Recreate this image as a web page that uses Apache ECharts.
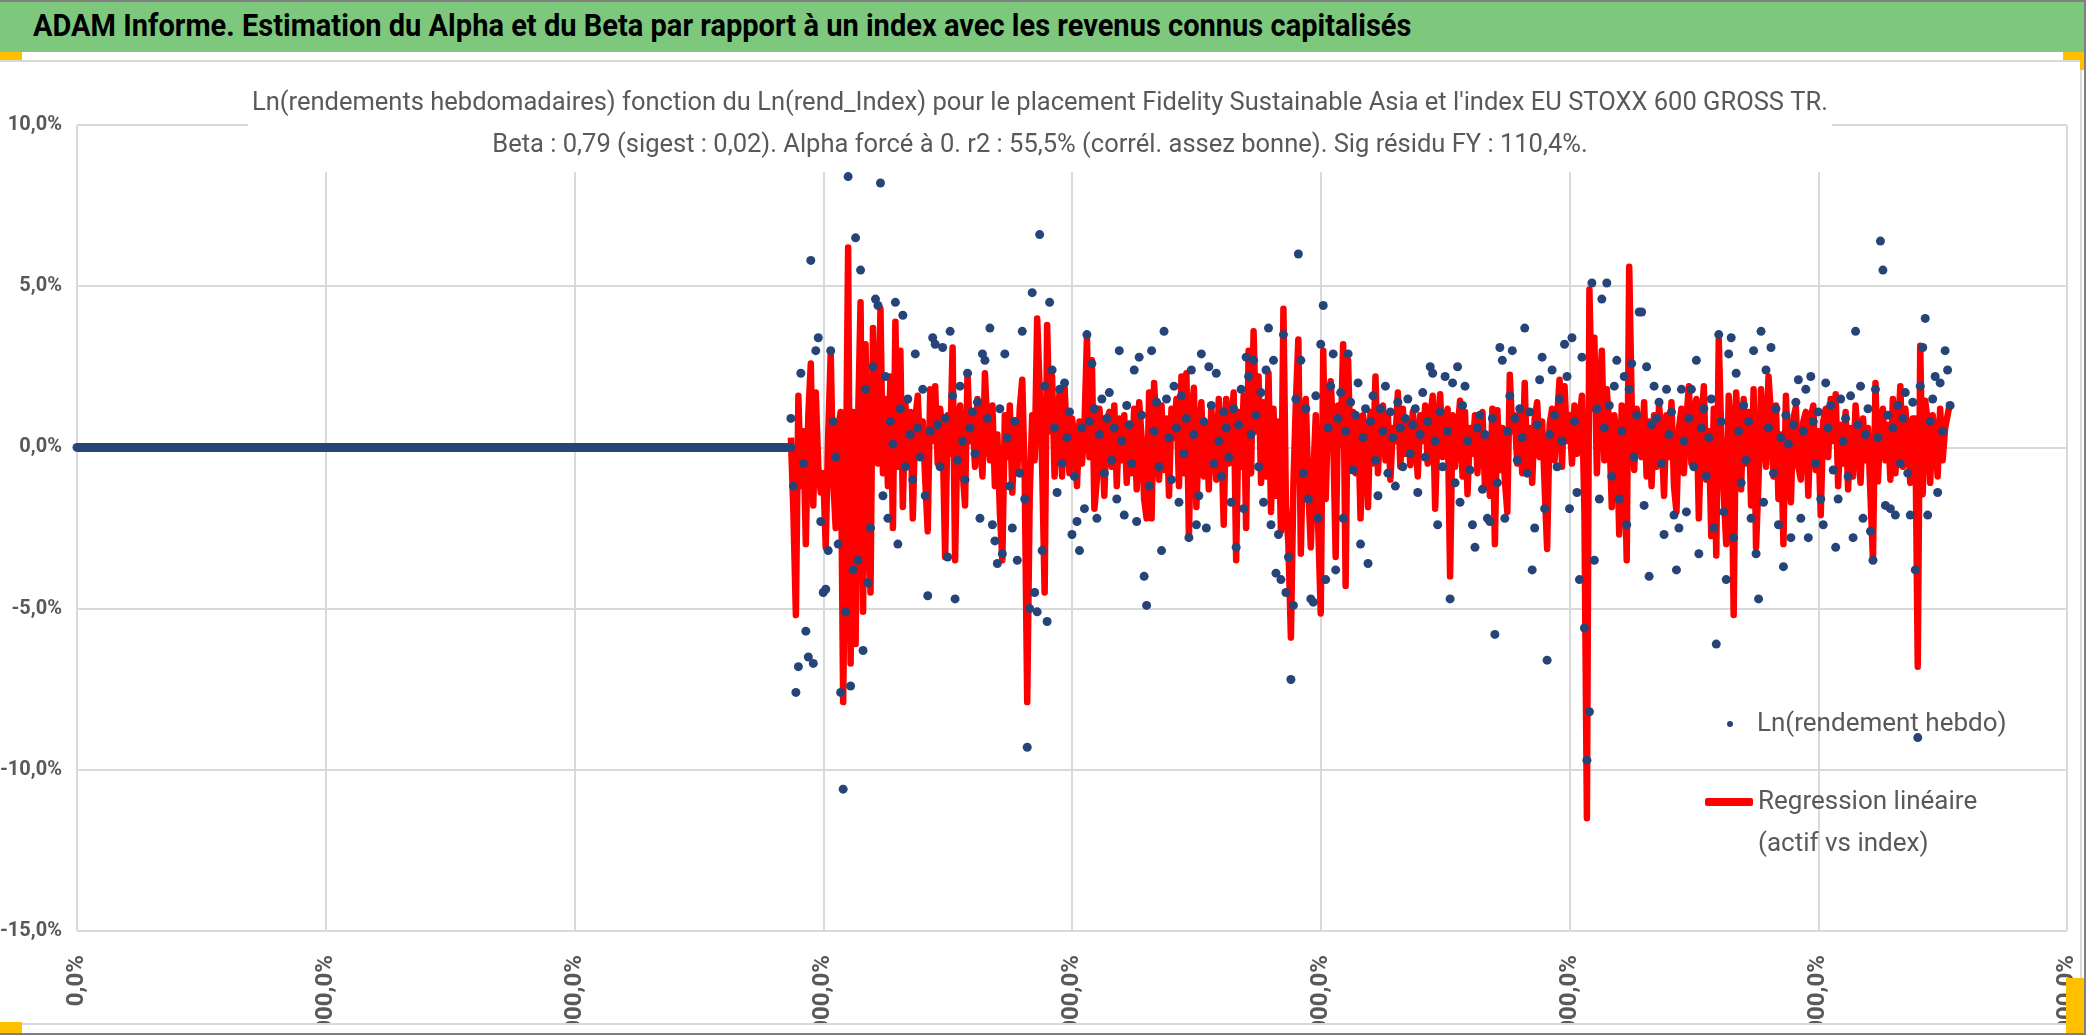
<!DOCTYPE html>
<html>
<head>
<meta charset="utf-8">
<title>ADAM Informe - Alpha et Beta</title>
<script src="https://cdn.jsdelivr.net/npm/echarts@6/dist/echarts.min.js"></script>
<style>
  html, body { margin: 0; padding: 0; background: #fff; }
  body { width: 2086px; height: 1035px; position: relative; overflow: hidden; }
  #header {
    position: absolute; left: 0; top: 0; width: 2084px; height: 52px;
    background: #7DC87D; border-top: 2px solid #7f7f7f; box-sizing: border-box;
    white-space: nowrap; overflow: hidden;
  }
  #headerText {
    position: absolute; left: 33px; top: 4px; display: inline-block;
    font-family: Roboto, 'Open Sans', sans-serif; font-weight: bold; font-size: 31px;
    line-height: 40px; color: #000; transform-origin: 0 50%;
  }
  #frameRight { position: absolute; left: 2084px; top: 0; width: 2px; height: 1035px; background: #7f7f7f; }
  #frameBottom { position: absolute; left: 0; top: 1033px; width: 2086px; height: 2px; background: #7f7f7f; }
  #chartBox {
    position: absolute; left: 0; top: 60px; width: 2080px; height: 961px;
    border-top: 2px solid #d9d9d9; border-right: 2px solid #d9d9d9; border-bottom: 2px solid #d9d9d9;
  }
  #main { position: absolute; left: 0; top: 0; width: 2080px; height: 961px; }
  .handle { position: absolute; background: #FFC000; }
</style>
</head>
<body>
<div id="header"><span id="headerText">ADAM Informe. Estimation du Alpha et du Beta par rapport à un index avec les revenus connus capitalisés</span></div>
<div id="chartBox"><div id="main"></div></div>
<div class="handle" style="left:0;top:52px;width:22px;height:8px"></div>
<div class="handle" style="left:2063px;top:52px;width:21px;height:8px"></div>
<div class="handle" style="left:2080px;top:52px;width:4px;height:18px"></div>
<div class="handle" style="left:0;top:1022px;width:22px;height:11px"></div>
<div class="handle" style="left:2066px;top:978px;width:18px;height:55px"></div>
<div id="frameRight"></div>
<div id="frameBottom"></div>
<script>
var FONT = "Roboto, 'Open Sans', sans-serif";
var GREY = '#595959';

// le bandeau fait ~1378px de large dans l'original (police étroite)
var ht = document.getElementById('headerText');
ht.style.transform = 'scaleX(' + (1378 / ht.offsetWidth) + ')';

// semaine où commence la série (avant : valeurs nulles)
var firstWeek = 287;
var zeroWeeks = [0, 287];

// Ln(rendement hebdo) en %, semaines 287..753
var lnWeekly = [
  0.9, -1.2, -7.6, -6.8, 2.3, -0.5, -5.7, -6.5, 5.8, -6.7,
  3.0, 3.4, -2.3, -4.5, -4.4, -3.2, 3.0, 0.8, -0.3, -3.0,
  -7.6, -10.6, -5.1, 8.4, -7.4, -3.8, 6.5, -3.5, 5.5, -6.3,
  1.8, -4.2, -2.5, 2.5, 4.6, 4.4, 8.2, -1.5, 2.2, -2.2,
  0.8, 0.1, 4.5, -3.0, 1.2, 4.1, -0.6, 1.5, 0.4, -1.0,
  2.9, 0.6, -0.3, 1.8, -1.5, -4.6, 0.5, 3.4, 3.2, 0.7,
  -0.6, 3.1, 0.9, -3.4, 3.6, 1.6, -4.7, -0.4, 1.9, 0.2,
  -1.0, 2.3, 0.6, 1.1, -0.2, 1.4, -2.2, 2.9, 2.7, 0.9,
  3.7, -2.4, -2.9, -3.6, 1.2, -3.3, 2.9, 0.3, -1.2, -2.5,
  0.8, -3.5, -0.8, 3.6, -1.6, -9.3, -5.0, 4.8, -4.5, -5.1,
  6.6, -3.2, 1.9, -5.4, 4.5, 2.4, 0.6, -1.4, 1.8, -0.5,
  2.0, 0.3, 1.1, -2.7, -0.9, -2.3, -3.2, 0.6,
  -1.9, 3.5, 0.8, 2.6, 1.2, -2.2, 0.4, 1.5, -0.8, 0.9,
  1.7, -0.4, 0.6, -1.6, 3.0, 0.2, -2.1, 1.3, 0.7, -0.5,
  2.4, -2.3, 2.8, 1.0, -4.0, -4.9, -1.2, 3.0, 0.5, 1.4,
  -0.6, -3.2, 3.6, 1.5, 0.3, -1.0, 1.9, 0.6, -1.7, 1.6,
  -0.2, 0.9, -2.8, 2.4, 0.4, -2.4, -1.5, 2.9, 0.8, -2.5,
  2.5, 1.3, -0.5, 2.3, 0.2, -0.9, 1.1, 0.6, -0.3, -1.7,
  1.2, -3.1, 0.7, 1.8, -1.9, 2.8, 2.2, 0.4, 2.7, 1.0,
  -0.6, 1.7, -1.7, 2.4, 3.7, -2.4, 2.7, -3.9, -2.7, -4.1,
  3.5, -4.5, -3.4, -7.2, -4.9, 1.5, 6.0, 2.7, -0.8, 1.2,
  -1.6, -4.7, -4.8, 1.6, -2.2, 3.2, 4.4, -4.1, 0.6, 1.9,
  2.9, -3.8, 0.9, 1.7, -2.2, 0.5, 2.9, 1.4, -0.7, 1.0,
  2.0, -3.0, 0.3, 1.2, -3.6,
  0.8, 1.6, -0.4, -1.5, 1.2, 0.5, 1.9, -0.8, 1.1, 0.3,
  -1.2, 1.4, 0.6, -0.6, 0.9, 1.5, -0.2, 0.7, 1.2, -1.4,
  0.4, 1.7, -0.3, 0.8, 2.5, 2.3, 0.2, -2.4, 1.1, -0.6,
  2.2, 0.5, -4.7, 2.0, -1.1, 2.5, -1.7, 1.3, 1.9, 0.2,
  -0.7, -2.4, -3.1, 0.6, 1.0, -1.3, 0.4, -2.2, -2.3, 0.9,
  -5.8, -1.1, 3.1, 2.7, -2.2, 0.5, 1.6, 3.0, 0.9, -0.4,
  1.2, 0.3, 3.7, -0.8, 1.1, -3.8, -2.5, 0.7, 2.1, 2.8,
  -1.9, -6.6, 0.4, 2.4, 1.0, -0.6, 1.5, 0.2, 3.2, 2.2,
  -1.9, 3.4, 0.8, -1.4, -4.1, 2.8, -5.6, -9.7, -8.2, 5.1,
  -3.5, 1.2, -1.6, 4.6, 0.6, 5.1, 1.3, -0.9, 1.9, 2.7,
  -1.6, 0.5, 2.2, -2.4, 1.8, 2.6, -0.3, 1.0, 4.2, 4.2,
  -1.8, 2.5, -4.0, 0.7, 1.9,
  0.9, 1.4, -0.5, -2.7, 1.8, 0.4, 1.1, -2.1, -3.8, -2.5,
  1.8, 0.2, -2.0, 0.9, 1.8, -0.6, 2.7, -3.3, 0.6, 1.2,
  -0.9, 0.3, 1.5, -2.5, -6.1, 3.5, 0.8, -2.0, -4.1, 2.9,
  3.4, -2.8, 2.3, 0.5, -1.1, 1.3, -0.4, 0.8, -2.2, 3.0,
  -3.3, -4.7, 3.6, -1.7, 2.4, 0.6, 3.1, -0.8, 1.2, -2.4,
  0.3, -3.7, 1.0, 0.1, -2.8, 0.7, 1.4, 2.1, -2.2, 0.5,
  1.8, -2.8, 2.2, 0.8, -0.5, 1.1, -1.6, -2.4, 2.0, 0.6,
  1.3, -0.7, -3.1, -1.6, 1.5, 0.2, 0.9, -0.9, 1.6, -2.8,
  3.6, 0.7, 1.9, -2.2, 0.4, 1.2, -2.6, -3.5, 1.8, 0.3,
  6.4, 5.5, -1.8, 1.0, -1.9, 0.6, -2.1, 1.3, -0.5, 0.9,
  1.7, -0.8, -2.1, 1.4, -3.8, -9.0, 1.9, 3.1, 4.0, -2.1,
  0.8, 1.5, 2.2, -1.4, 2.0, 0.5, 3.0, 2.4, 1.3
];

// Regression linéaire (beta x Ln(rend_Index)) en %, mêmes semaines
var lnFit = [
  0.3, -2.0, -5.2, 1.6, -1.2, 0.5, -3.0, 1.0, 2.6, -1.8,
  1.7, -0.6, -1.4, -0.8, -3.1, 0.4, 2.9, -1.0, -2.5, 0.6,
  1.1, -7.9, -2.0, 6.2, -6.7, 1.1, -6.1, 0.8, 4.5, -5.1,
  3.2, -1.5, -4.5, 3.7, 0.5, -0.5, 4.3, -0.8, 1.5, -1.2,
  2.2, -2.5, 3.9, -0.6, 3.0, -1.85, 1.4, -0.4, 1.1, -2.2,
  0.9, 1.6, -0.3, 0.8, -1.0, -2.6, 1.8, 0.2, 1.9, -0.5,
  1.2, 0.4, -3.4, 1.0, -0.2, 3.1, -3.5, 0.6, 1.3, -0.7,
  -1.8, 2.3, 0.2, 1.0, -0.6, 1.5, 0.3, -0.9, 2.3, 0.5,
  -0.4, 1.3, -1.2, 0.4, -2.0, -3.5, 1.0, -0.3, 1.3, -1.4,
  0.6, -0.8, 1.2, 2.1, -1.0, -7.9, -1.5, 1.0, -0.4, 4.0,
  1.8, -0.6, -4.5, 3.8, 0.5, 2.2, -0.9, 0.7, 1.7, -0.9,
  1.9, 0.2, -0.8, 0.9, 0.3, -1.2, 0.8, -0.5,
  0.6, 3.4, -0.3, 2.7, -1.9, -1.0, 1.2, 0.4, -1.5, 0.8,
  1.1, -0.6, 1.3, -1.2, 0.9, -0.4, 1.0, -1.1, 0.7, -0.8,
  1.2, -1.3, 1.4, 0.3, -1.6, -2.2, 1.7, -2.2, 2.0, 0.5,
  -1.0, 1.3, -0.7, 0.9, -1.5, 1.2, 0.3, 1.5, -1.2, 2.2,
  -0.8, 2.3, -2.75, 1.0, 1.85, -1.85, 0.4, 1.4, -0.9, 0.7,
  -1.3, 1.2, 0.2, -1.0, 1.5, 0.3, -2.4, 1.5, -0.5, 0.8,
  1.7, -3.5, 1.1, -0.6, 1.6, -2.5, 3.0, -0.8, 3.6, 0.5,
  2.2, -1.1, 1.4, -0.9, 2.3, -2.0, 1.2, -1.5, 0.8, -2.6,
  4.3, -1.8, -3.0, -5.9, -1.2, 1.4, 3.35, -3.3, 0.6, 1.5,
  -1.3, -3.1, -0.9, 1.0, -2.5, -5.15, 3.0, -1.6, 1.2, 2.05,
  0.4, -3.4, 1.3, 0.1, 3.2, -4.3, 2.7, -0.5, 1.1, -0.8,
  0.9, -2.2, 1.0, 0.4, -1.85,
  1.1, -0.5, 2.2, -0.8, 0.9, 1.3, -0.4, 1.0, -1.0, 0.6,
  0.2, 1.7, -0.6, 1.2, -0.2, 0.8, -0.55, 1.1, 0.3, -0.9,
  1.0, 0.2, 1.3, -0.5, 0.9, 1.6, -1.9, 0.7, 1.65, -0.3,
  0.8, 1.2, -4.0, 1.0, -0.6, 0.5, 1.45, -0.9, 1.1, -1.45,
  0.6, -0.2, 1.0, -0.8, 0.7, 1.1, -1.2, 0.3, -1.5, 1.2,
  -3.0, 1.15, -0.7, 0.6, -1.0, -2.0, 2.25, 0.5, 1.0, -0.5,
  1.1, -0.8, 2.0, -0.8, 0.6, -1.1, 0.9, 1.4, -0.3, 0.8,
  -1.2, -3.15, 0.7, 1.2, -0.4, 0.9, 2.1, -0.6, 1.9, 0.2,
  1.0, -0.5, 1.3, -0.2, 0.8, 1.6, -2.0, -11.5, 4.9, 1.2,
  3.4, -0.8, 1.5, 3.0, -0.4, 1.8, 0.6, -1.85, 1.0, 0.4,
  -2.7, 1.3, 0.2, -3.5, 5.6, 1.35, -0.7, 1.2, 0.5, -0.3,
  1.4, -0.9, 0.8, -1.2, 1.0,
  -0.6, 1.3, 0.4, -1.5, 1.0, -0.3, 1.4, -1.2, -2.0, 0.6,
  1.2, -0.8, 0.9, 1.9, -0.5, 1.1, 1.5, -2.2, 0.7, 1.9,
  -1.0, 0.5, -2.75, 1.2, -3.35, 3.35, 0.4, -1.4, -3.0, 1.6,
  0.6, -5.2, 1.7, 0.2, -1.3, 1.5, -0.5, 1.1, -1.8, 1.8,
  -3.1, -1.0, 1.8, 0.5, -0.6, 2.2, 1.0, -0.9, 1.3, -1.6,
  0.4, -3.0, 1.6, -0.4, -1.7, 0.9, 1.25, -0.6, -1.0, 0.8,
  1.1, -1.5, 0.9, 1.3, -0.7, 0.5, -2.1, 0.8, 1.2, -0.3,
  1.5, 0.2, 1.65, -1.2, 0.7, -0.5, 1.1, -1.3, 0.6, -0.9,
  1.3, 0.2, -1.1, 0.9, -0.4, 0.6, -1.5, -3.5, 2.0, -1.05,
  0.8, 1.2, -0.4, 0.7, -1.0, 1.5, -0.8, 0.4, 1.9, -0.6,
  1.2, 0.3, -1.1, 0.9, 0.9, -6.8, 3.15, -1.45, 1.45, 0.8,
  -1.1, 1.0, 0.3, -0.9, 1.2, -0.4, 0.6, 1.0, 1.4
];

// axes
var yMin = -15, yMax = 10, yStep = 5;
var xMin = 0, xMax = 800, xStep = 100;

var titleText = "Ln(rendements hebdomadaires) fonction du Ln(rend_Index) pour le placement Fidelity Sustainable Asia et l'index EU STOXX 600 GROSS TR.";
var subText = "Beta : 0,79 (sigest : 0,02). Alpha forcé à 0. r2 : 55,5% (corrél. assez bonne). Sig résidu FY : 110,4%.";
var nameFund = 'Ln(rendement hebdo)';
var nameFit = 'Regression linéaire (actif vs index)';

function pct(v) {
  return v.toFixed(1).replace('.', ',') + '%';
}

var fundPts = [], fitPts = [];
for (var i = 0; i < lnWeekly.length; i++) {
  fundPts.push([firstWeek + i, lnWeekly[i]]);
  fitPts.push([firstWeek + i, lnFit[i]]);
}

var myChart = echarts.init(document.getElementById('main'), null, { renderer: 'canvas' });

var option = {
  animation: false,
  backgroundColor: '#fff',
  textStyle: { fontFamily: FONT },
  title: {
    left: 'center',
    top: 10,
    text: titleText,
    subtext: subText,
    itemGap: 16,
    padding: [19, 4, 13, 4],
    backgroundColor: '#fff',
    z: 10,
    textStyle: { fontFamily: FONT, fontSize: 25.5, fontWeight: 'normal', color: GREY, lineHeight: 26 },
    subtextStyle: { fontFamily: FONT, fontSize: 25.5, color: GREY, lineHeight: 26 }
  },
  legend: [{
    data: [{ name: nameFund, icon: 'circle' }],
    left: 1722, top: 641,
    itemWidth: 6, itemHeight: 6,
    formatter: function (n) { return '{t|' + n + '}'; },
    textStyle: {
      fontFamily: FONT, fontSize: 26, color: GREY, lineHeight: 32,
      rich: { t: { fontFamily: FONT, fontSize: 26, color: GREY, lineHeight: 32, padding: [0, 0, 0, 19] } }
    }
  }, {
    data: [{ name: nameFit, icon: 'roundRect', itemStyle: { color: '#FF0000' } }],
    left: 1700, top: 672,
    itemWidth: 48, itemHeight: 8,
    formatter: function () { return '\nRegression linéaire\n(actif vs index)'; },
    textStyle: { fontFamily: FONT, fontSize: 26, color: GREY, lineHeight: 42 }
  }],
  grid: { left: 77, right: 13, top: 63, bottom: 92, containLabel: false, outerBoundsMode: 'none' },
  xAxis: {
    type: 'value',
    min: xMin, max: xMax, interval: xStep,
    axisLine: { show: false },
    axisTick: { show: false },
    splitLine: { show: true, lineStyle: { color: '#d9d9d9', width: 2 } },
    axisLabel: {
      rotate: 90, margin: 24,
      fontFamily: FONT, fontSize: 24, fontWeight: 'bold', color: GREY,
      formatter: function (v) { return v === 0 ? '0,0%' : pct(v * 100); }
    }
  },
  yAxis: {
    type: 'value',
    min: yMin, max: yMax, interval: yStep,
    axisLine: { show: false },
    axisTick: { show: false },
    splitLine: { show: true, lineStyle: { color: '#d9d9d9', width: 2 } },
    axisLabel: {
      margin: 15,
      fontFamily: FONT, fontSize: 20, fontWeight: 'bold', color: GREY,
      formatter: pct
    }
  },
  series: [
    {
      name: nameFit,
      type: 'line',
      data: fitPts,
      showSymbol: false,
      symbol: 'none',
      itemStyle: { color: '#FF0000' },
      lineStyle: { color: '#FF0000', width: 6.5, join: 'round' },
      silent: true,
      z: 2
    },
    {
      name: 'zero',
      type: 'line',
      data: zeroWeeks.map(function (w) { return [w, 0]; }),
      symbol: 'none',
      lineStyle: { color: '#264478', width: 9, cap: 'round' },
      silent: true,
      z: 3
    },
    {
      name: nameFund,
      type: 'scatter',
      data: fundPts,
      symbolSize: 9,
      itemStyle: { color: '#264478', opacity: 1 },
      silent: true,
      z: 4
    }
  ]
};

myChart.setOption(option);
</script>
</body>
</html>
